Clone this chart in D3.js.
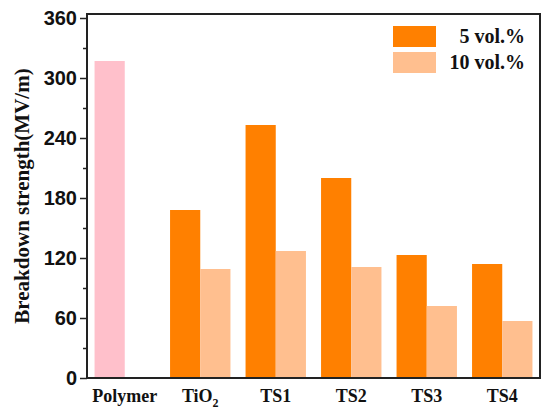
<!DOCTYPE html>
<html>
<head>
<meta charset="utf-8">
<script src="https://cdn.jsdelivr.net/npm/d3@7"></script>
<style>
  body { margin: 0; background: #fff; }
  svg { display: block; }
</style>
</head>
<body>
<div id="chart"></div>
<script>
const width = 550;
const height = 416;
const margin = {top: 14, right: 10, bottom: 38, left: 87};

const groups = ["Polymer", "TiO2", "TS1", "TS2", "TS3", "TS4"];
const series = ["5 vol.%", "10 vol.%"];
const vol5 = [317, 168, 253, 200, 123, 114];
const vol10 = [null, 109, 127, 111, 72, 57];
const yMajor = [0, 60, 120, 180, 240, 300, 360];
const yMinor = [30, 90, 150, 210, 270, 330];

const colors = {"5 vol.%": "#ff8000", "10 vol.%": "#ffbf8f", polymer: "#ffc0cb"};

const data = groups.map((g, i) => ({group: g, values: [
  {key: series[0], value: vol5[i]},
  {key: series[1], value: vol10[i]}
]}));

const x = d3.scaleBand()
  .domain(groups)
  .range([margin.left, width - margin.right])
  .paddingInner(0.2)
  .paddingOuter(0.1);

const xSub = d3.scaleBand()
  .domain(series)
  .range([0, x.bandwidth()]);

const y = d3.scaleLinear()
  .domain([0, 364])
  .range([height - margin.bottom, margin.top]);

const svg = d3.select("#chart").append("svg")
  .attr("width", width)
  .attr("height", height);

// bars
const g = svg.append("g")
  .selectAll("g")
  .data(data)
  .join("g")
  .attr("transform", d => `translate(${x(d.group)},0)`);

g.selectAll("rect")
  .data(d => d.values.filter(v => v.value != null).map(v => ({...v, group: d.group})))
  .join("rect")
  .attr("x", d => xSub(d.key))
  .attr("y", d => y(d.value))
  .attr("width", xSub.bandwidth())
  .attr("height", d => y(0) - y(d.value))
  .attr("fill", d => d.group === "Polymer" ? colors.polymer : colors[d.key]);

// y axis
const yAxis = svg.append("g")
  .attr("transform", `translate(${margin.left},0)`)
  .call(d3.axisLeft(y).tickValues(yMajor).tickSize(7).tickPadding(3))
  .call(g => g.select(".domain").remove());

yAxis.selectAll("line").attr("stroke", "#222").attr("stroke-width", 1.5);
yAxis.selectAll("text")
  .style("font-family", "'Liberation Sans', Arial, sans-serif")
  .style("font-weight", "bold")
  .style("font-size", "20px")
  .attr("fill", "#111");

svg.append("g")
  .attr("transform", `translate(${margin.left},0)`)
  .call(d3.axisLeft(y).tickValues(yMinor).tickSize(4).tickFormat(""))
  .call(g => g.select(".domain").remove())
  .call(g => g.selectAll("line").attr("stroke", "#222").attr("stroke-width", 1.5));

// x labels
const xLab = svg.append("g")
  .selectAll("text")
  .data(groups)
  .join("text")
  .attr("x", d => x(d) + x.bandwidth() / 2)
  .attr("y", 402)
  .attr("text-anchor", "middle")
  .style("font-family", "'Liberation Serif', 'Times New Roman', serif")
  .style("font-weight", "bold")
  .style("font-size", "18px")
  .attr("fill", "#111");

xLab.each(function(d) {
  const t = d3.select(this);
  if (d === "TiO2") {
    t.append("tspan").text("TiO");
    t.append("tspan").attr("dy", 5).style("font-size", "12px").text("2");
  } else {
    t.text(d);
  }
});

// frame
svg.append("rect")
  .attr("x", margin.left)
  .attr("y", margin.top)
  .attr("width", width - margin.right - margin.left)
  .attr("height", y(0) - margin.top)
  .attr("fill", "none")
  .attr("stroke", "#222")
  .attr("stroke-width", 2);

// y title
svg.append("text")
  .attr("transform", `translate(29,${(margin.top + y(0)) / 2}) rotate(-90)`)
  .attr("text-anchor", "middle")
  .style("font-family", "'Liberation Serif', 'Times New Roman', serif")
  .style("font-weight", "bold")
  .style("font-size", "21px")
  .attr("fill", "#111")
  .text("Breakdown strength(MV/m)");

// legend
const legend = svg.append("g")
  .selectAll("g")
  .data(series)
  .join("g")
  .attr("transform", (d, i) => `translate(393,${26 + i * 26})`);

legend.append("rect")
  .attr("width", 43)
  .attr("height", 21)
  .attr("fill", d => colors[d]);

legend.append("text")
  .attr("x", 132)
  .attr("y", 17)
  .attr("text-anchor", "end")
  .style("font-family", "'Liberation Serif', 'Times New Roman', serif")
  .style("font-weight", "bold")
  .style("font-size", "20px")
  .attr("fill", "#111")
  .text(d => d);
</script>
</body>
</html>
